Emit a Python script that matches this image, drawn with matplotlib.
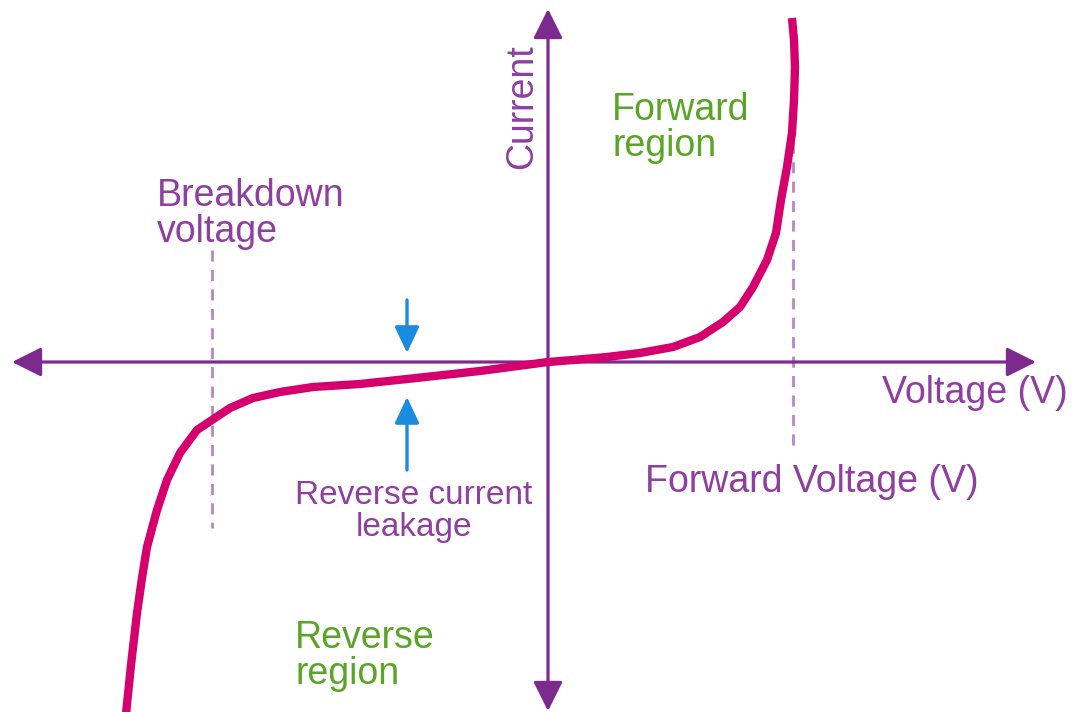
import matplotlib
matplotlib.use('Agg')
import matplotlib.pyplot as plt

plt.rcParams['font.family'] = ['Liberation Sans', 'DejaVu Sans']

# diode I-V curve (origin = axis crossing)
voltage = [-422, -417, -411, -406, -401, -391, -381, -368, -351, -336, -318, -295,
           -268, -235, -188, -141, -68, 0, 25, 59, 92, 125, 152, 175, 192, 205,
           219, 228, 233, 239, 244, 246, 247, 246, 244]
current = [-352, -303, -251, -216, -185, -148, -118, -91, -68, -58, -46, -36,
           -30, -25, -22, -17, -9, 0, 2, 5, 9, 15, 25, 40, 55, 75,
           102, 129, 162, 195, 229, 262, 295, 322, 344]

breakdown_v = -336
forward_v = 245
leak_x = -141

axis_col = '#7D2A8F'
text_col = '#8E3FA0'
dash_col = '#B985C9'
curve_col = '#D5006D'
green = '#5AA526'
blue = '#1A8CE0'

fig = plt.figure(figsize=(10.75, 7.12), dpi=100)
ax = fig.add_axes([0, 0, 1, 1])
ax.set_xlim(-548, 527)
ax.set_ylim(-350, 362)
ax.axis('off')

# axes with arrow heads
ax.annotate('', xy=(-536, 0), xytext=(488, 0),
            arrowprops=dict(arrowstyle='<|-|>,head_length=1.8,head_width=0.9',
                            color=axis_col, lw=2.3, shrinkA=0, shrinkB=0))
ax.annotate('', xy=(0, 353), xytext=(0, -349),
            arrowprops=dict(arrowstyle='<|-|>,head_length=1.8,head_width=0.9',
                            color=axis_col, lw=2.3, shrinkA=0, shrinkB=0))

# dashed guide lines
ax.plot([breakdown_v, breakdown_v], [112, -166], color=dash_col, lw=2,
        dashes=(4, 3), zorder=1)
ax.plot([forward_v, forward_v], [317, -84], color=dash_col, lw=2,
        dashes=(4, 3), zorder=1)

# the curve
ax.plot(voltage, current, color=curve_col, lw=6, solid_capstyle='butt',
        solid_joinstyle='round', zorder=3)

# leakage arrows
ax.annotate('', xy=(leak_x, 9), xytext=(leak_x, 62),
            arrowprops=dict(arrowstyle='-|>,head_length=1.6,head_width=0.75',
                            color=blue, lw=2.4, shrinkA=0, shrinkB=0))
ax.annotate('', xy=(leak_x, -35), xytext=(leak_x, -108),
            arrowprops=dict(arrowstyle='-|>,head_length=1.6,head_width=0.75',
                            color=blue, lw=2.4, shrinkA=0, shrinkB=0))

fs = 27
ax.text(-26, 255, 'Current', rotation=90, ha='center', va='center',
        color=text_col, fontsize=fs)
ax.text(64, 270, 'Forward\nregion', ha='left', va='top', color=green,
        fontsize=fs, linespacing=1.0)
ax.text(-391, 184, 'Breakdown\nvoltage', ha='left', va='top', color=text_col,
        fontsize=fs, linespacing=1.0)
ax.text(-134, -118, 'Reverse current\nleakage', ha='center', va='top',
        color=text_col, fontsize=24, linespacing=1.05)
ax.text(97, -120, 'Forward Voltage (V)', ha='left', va='center',
        color=text_col, fontsize=fs)
ax.text(334, -31, 'Voltage (V)', ha='left', va='center', color=text_col,
        fontsize=fs)
ax.text(-253, -258, 'Reverse\nregion', ha='left', va='top', color=green,
        fontsize=fs, linespacing=1.0)

fig.savefig('out.png', dpi=100, facecolor='white')
